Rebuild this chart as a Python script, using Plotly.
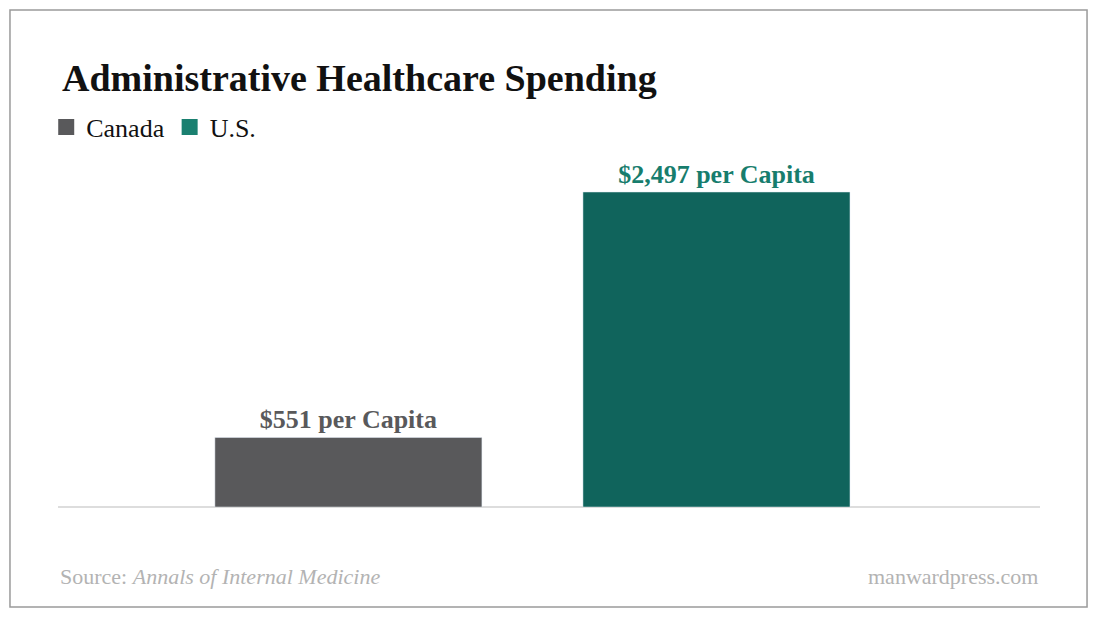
import plotly.graph_objects as go

countries = ["Canada", "U.S."]
spending = [551, 2497]
labels = ["<b>$551 per Capita</b>", "<b>$2,497 per Capita</b>"]
bar_colors = ["#59595b", "#10645c"]
text_colors = ["#59595b", "#177d6d"]
legend_colors = ["#59595b", "#1a8070"]

FONT = "Liberation Serif"

fig = go.Figure()
for i, (name, val) in enumerate(zip(countries, spending)):
    fig.add_bar(
        x=[i], y=[val], name=name, width=0.7255,
        marker=dict(color=bar_colors[i]),
        text=[labels[i]], textposition="outside", cliponaxis=False,
        textfont=dict(family=FONT, size=26, color=text_colors[i]),
        showlegend=False,
    )
    # legend-only squares
    fig.add_scatter(
        x=[None], y=[None], mode="markers", name=name,
        marker=dict(symbol="square", size=20, color=legend_colors[i]),
    )

# page body adds an 8px margin, so the figure is 16px smaller than the window
fig.update_layout(
    width=1084, height=604,
    margin=dict(l=50, r=52, t=142, b=105),
    paper_bgcolor="white", plot_bgcolor="white",
    font=dict(family=FONT, color="#111"),
    barmode="overlay",
    legend=dict(orientation="h", x=-0.012, y=1.064, xanchor="left", yanchor="middle",
                font=dict(size=26, color="#111"), itemwidth=30, tracegroupgap=0),
    xaxis=dict(range=[-0.789, 1.879], showticklabels=False, showgrid=False,
               zeroline=False, showline=False),
    yaxis=dict(range=[0, 2830], showticklabels=False, showgrid=False,
               zeroline=True, zerolinecolor="#dddddd", zerolinewidth=1.5),
    shapes=[dict(type="rect", xref="paper", yref="paper",
                 x0=-0.0489, x1=1.0479, y0=-0.280, y1=1.392,
                 line=dict(color="#9a9a9a", width=1.5))],
    annotations=[
        dict(text="<b>Administrative Healthcare Spending</b>", xref="paper", yref="paper",
             x=0.002, y=1.2017, xanchor="left", yanchor="middle", showarrow=False,
             font=dict(size=38, color="#111")),
        dict(text="Source: <i>Annals of Internal Medicine</i>", xref="paper", yref="paper",
             x=0, y=-0.196, xanchor="left", yanchor="middle", showarrow=False,
             font=dict(size=22, color="#b3b3b3")),
        dict(text="manwardpress.com", xref="paper", yref="paper",
             x=1, y=-0.196, xanchor="right", yanchor="middle", showarrow=False,
             font=dict(size=22, color="#b3b3b3")),
    ],
)

fig.write_html("out.html")
